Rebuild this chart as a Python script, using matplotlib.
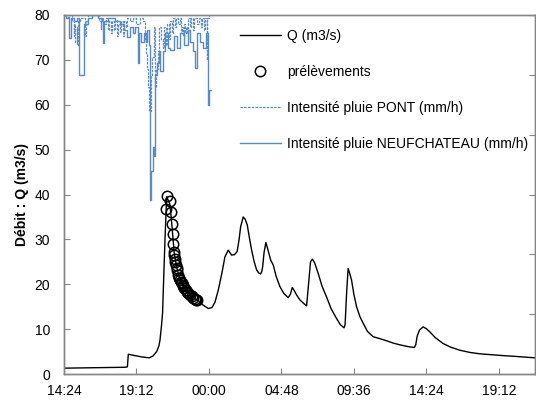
import matplotlib
matplotlib.use("Agg")
import matplotlib.pyplot as plt

plt.rcParams['font.family'] = ['Liberation Sans', 'DejaVu Sans']

# time in hours after 14:24 on day 1
t_q = [0.0, 2.0, 4.04, 4.20, 4.26, 4.70, 5.16, 5.65, 5.89, 6.14, 6.29, 6.36, 6.45, 6.53, 6.60, 6.69,
       6.80, 7.00, 7.10, 7.20, 7.30, 7.45, 7.60, 7.80, 8.10, 8.50, 8.90, 9.20, 9.55, 9.80,
       10.00, 10.22, 10.46, 10.66, 10.88, 11.10, 11.30, 11.47, 11.60, 11.70, 11.87, 12.00,
       12.14, 12.30, 12.43, 12.60, 12.76, 12.90, 13.02, 13.10, 13.16, 13.25, 13.37, 13.50,
       13.69, 13.86, 14.05, 14.30, 14.55, 14.85, 15.00, 15.12, 15.25, 15.41, 15.63, 15.85,
       16.07, 16.20, 16.33, 16.45, 16.60, 16.84, 17.10, 17.39, 17.70, 18.05, 18.30, 18.55,
       18.62, 18.72, 18.82, 18.92, 19.05, 19.20, 19.38, 19.60, 19.82, 20.10, 20.48, 20.90,
       21.37, 21.80, 22.25, 22.80, 23.20, 23.30, 23.40, 23.55, 23.79, 24.00, 24.23, 24.60,
       25.11, 25.60, 26.22, 26.90, 27.54, 28.30, 29.08, 30.00, 31.20]
q = [1.3, 1.4, 1.5, 1.6, 4.4, 4.1, 3.8, 3.6, 4.0, 5.0, 6.3, 7.6, 10.5, 13.6, 21.0, 30.0,
     39.5, 38.0, 35.0, 31.0, 27.0, 24.0, 22.0, 20.2, 18.6, 17.2, 16.3, 15.4, 14.6, 14.8,
     16.0, 18.7, 22.5, 26.1, 27.6, 26.5, 26.6, 27.3, 30.0, 32.8, 35.0, 34.5,
     33.2, 30.0, 27.6, 25.0, 23.2, 22.5, 22.3, 22.8, 23.9, 27.0, 29.3, 27.8,
     25.4, 24.3, 21.8, 19.5, 18.0, 17.0, 17.8, 19.3, 18.6, 17.6, 16.5, 15.8,
     15.2, 20.0, 25.0, 25.6, 24.8, 22.4, 19.5, 17.2, 14.5, 12.4, 11.0, 10.3,
     11.0, 18.0, 23.5, 22.5, 20.9, 17.8, 15.0, 12.8, 11.3, 9.5, 8.3, 7.9,
     7.4, 6.9, 6.5, 6.1, 5.9, 6.5, 8.5, 9.8, 10.5, 10.1, 9.4, 8.1,
     6.8, 6.0, 5.3, 4.8, 4.5, 4.3, 4.1, 3.9, 3.6]

# prelevements (samples)
t_s = [6.73, 6.80, 7.02, 7.08, 7.15, 7.20, 7.24, 7.28, 7.30, 7.35, 7.38, 7.42, 7.46, 7.50,
       7.57, 7.62, 7.68, 7.74, 7.79, 7.85, 7.90, 7.98, 8.08, 8.15, 8.23, 8.35, 8.45, 8.55,
       8.67, 8.75, 8.83]
q_s = [36.7, 39.7, 38.6, 36.1, 33.5, 31.3, 29.0, 27.2, 26.5, 25.7, 25.0, 24.3, 23.7, 23.2,
       22.1, 21.5, 21.0, 20.6, 20.2, 19.8, 19.5, 19.1, 18.7, 18.3, 18.0, 17.6, 17.3, 17.0,
       16.8, 16.6, 16.5]

# rain intensity PONT (mm/h)
t_pont = [0.0, 0.53, 0.63, 0.69, 0.76, 0.83, 0.89, 0.96, 1.06, 1.42, 1.49, 1.59, 2.32, 2.42,
          2.48, 2.58, 2.78, 2.91, 2.98, 3.11, 3.18, 3.31, 3.38, 3.51, 3.58, 3.71, 3.77, 3.91,
          3.97, 4.10, 4.17, 4.37, 4.57, 4.77, 5.03, 5.23, 5.36, 5.43, 5.53, 5.59, 5.66, 5.76,
          5.86, 5.93, 6.03, 6.09, 6.22, 6.32, 6.42, 6.55, 6.65, 6.75, 6.85, 6.95, 7.05, 7.15,
          7.22, 7.35, 7.42, 7.55, 7.68, 7.75, 7.81, 7.88, 7.95, 8.01, 8.08, 8.14, 8.21, 8.34,
          8.41, 8.54, 8.61, 8.81, 8.94, 9.07, 9.14, 9.27, 9.37, 9.44, 9.50, 9.60]
r_pont = [0, 1, 3.5, 1.5, 4.5, 2, 5, 1, 0.5, 3.5, 1, 0, 1, 2.3,
          0.5, 1.5, 0.5, 2.5, 1, 3, 1, 2.5, 0.8, 3.5, 1.5, 2.8, 1, 3.5,
          1, 2, 0.5, 1, 0.5, 1.5, 0.5, 1, 4, 6.5, 9, 12, 16, 10,
          7, 2, 12, 9, 6, 2, 4, 5.5, 2, 5, 1.5, 4, 1, 3,
          0.5, 2, 0.5, 1.5, 0.5, 3, 2, 3.5, 1.5, 3, 2, 3, 0.5, 2,
          0.5, 2.5, 0.5, 1.5, 0.5, 2, 0.5, 2.5, 0.5, 7.5, 0.5, 0]

# rain intensity NEUFCHATEAU (mm/h)
t_neuf = [0.0, 0.13, 0.26, 0.36, 0.46, 0.66, 0.86, 1.01, 1.34, 1.59, 1.85, 2.25, 2.52, 2.60,
          2.68, 2.91, 3.38, 3.71, 3.97, 4.17, 4.37, 4.57, 4.73, 4.87, 4.95, 5.10, 5.30, 5.43,
          5.53, 5.63, 5.67, 5.78, 5.89, 5.99, 6.06, 6.16, 6.29, 6.39, 6.55, 6.69, 6.89, 7.02,
          7.28, 7.48, 7.68, 7.95, 8.21, 8.34, 8.54, 8.71, 8.81, 9.00, 9.20, 9.40, 9.53, 9.62,
          9.75]
r_neuf = [0, 0.5, 0.3, 3.9, 0.5, 1.0, 0.5, 10, 1.5, 0.5, 0, 0.5, 1.0, 4.7,
          1.0, 0.5, 1.0, 1.5, 2.5, 3.7, 2.0, 3.0, 2.0, 8.0, 3.0, 4.5, 3.0, 4.5,
          2.5, 5, 31, 26, 22, 23.5, 10, 8, 6, 9.4, 6, 3, 5.5, 5.8,
          3.5, 5.5, 3.0, 5.0, 2.5, 4.5, 6.0, 8.8, 3.0, 4.5, 5.5, 3, 15, 12.5,
          12.5]

xticks = [0, 4.8, 9.6, 14.4, 19.2, 24.0, 28.8]
xlabels = ['14:24', '19:12', '00:00', '04:48', '09:36', '14:24', '19:12']

grey = '#868686'
blue = '#5a8ac6'

fig = plt.figure(figsize=(5.36, 4.08), dpi=100)
ax = fig.add_axes([64 / 536, 34 / 408, 471 / 536, 359 / 408])

lq, = ax.plot(t_q, q, color='black', lw=1.0, label='Q (m3/s)')
ls, = ax.plot(t_s, q_s, 'o', mfc='none', mec='black', ms=7.5, mew=1.1, label='prélèvements')
ax.set_xlim(0, 31.2)
ax.set_ylim(0, 80)
ax.set_yticks(range(0, 81, 10))
ax.set_xticks(xticks)
ax.set_xticklabels(xlabels)
ax.tick_params(axis='both', direction='in', length=4, color=grey, labelsize=10)
ax.tick_params(axis='y', pad=10)
ax.tick_params(axis='x', pad=7)
ax.set_ylabel('Débit : Q (m3/s)', fontsize=10, fontweight='bold', labelpad=4)

ax2 = ax.twinx()
lp, = ax2.plot(t_pont, r_pont, drawstyle='steps-post', color=blue, lw=0.9, ls=(0, (2, 1)),
               label='Intensité pluie PONT (mm/h)')
ln, = ax2.plot(t_neuf, r_neuf, drawstyle='steps-post', color=blue, lw=1.0,
               label='Intensité pluie NEUFCHATEAU (mm/h)')
ax2.set_ylim(60, 0)
ax2.set_yticks(range(0, 61, 10))
ax2.tick_params(axis='y', direction='in', length=4, color=grey, labelright=False)

for a in (ax, ax2):
    for sp in a.spines.values():
        sp.set_color(grey)
        sp.set_linewidth(1.0)

ax2.legend(handles=[lq, ls, lp, ln], loc='upper left', bbox_to_anchor=(234 / 536, 1 - 23 / 408),
           bbox_transform=fig.transFigure, frameon=False, fontsize=10, handlelength=3,
           handletextpad=0.45, labelspacing=1.6, borderaxespad=0)

fig.savefig('out.png', dpi=100)
